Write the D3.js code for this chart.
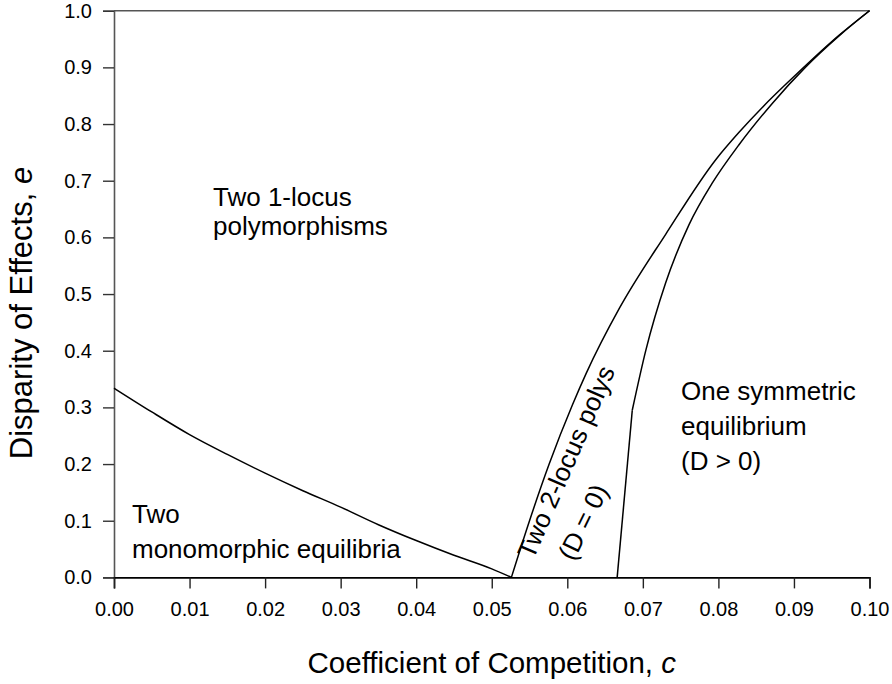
<!DOCTYPE html>
<html>
<head>
<meta charset="utf-8">
<script src="https://cdn.jsdelivr.net/npm/d3@7"></script>
<style>
  html, body { margin: 0; padding: 0; background: #fff; }
  svg { display: block; }
  text { font-family: "Liberation Sans", Arial, Helvetica, sans-serif; fill: #000; }
</style>
</head>
<body>
<svg id="chart" width="892" height="684"></svg>
<script>
// ---- Data ----
const xTicks = [0, 0.01, 0.02, 0.03, 0.04, 0.05, 0.06, 0.07, 0.08, 0.09, 0.10];
const yTicks = [0, 0.1, 0.2, 0.3, 0.4, 0.5, 0.6, 0.7, 0.8, 0.9, 1.0];

// Boundary: two monomorphic equilibria / two 1-locus polymorphisms
const monoC = [0, 0.005, 0.01, 0.015, 0.02, 0.025, 0.03, 0.035, 0.04, 0.045, 0.05, 0.0526];
const monoE = [0.334, 0.292, 0.252, 0.217, 0.184, 0.153, 0.124, 0.093, 0.065, 0.039, 0.015, 0];

// Boundary: two 1-locus polymorphisms / two 2-locus polys (D = 0)
const leftC = [0.0526, 0.0550, 0.0576, 0.0607, 0.0625, 0.0669, 0.0730, 0.0797, 0.0827, 0.0860, 0.0893, 0.0924, 0.0960, 0.1000];
const leftE = [0, 0.100, 0.200, 0.305, 0.360, 0.475, 0.605, 0.738, 0.785, 0.832, 0.875, 0.914, 0.957, 1.0];

// Boundary: two 2-locus polys / one symmetric equilibrium (D > 0)
const rightC = [0.0666, 0.0686, 0.0704, 0.0730, 0.0761, 0.0792, 0.0827, 0.0871, 0.0915, 0.0960, 0.1000];
const rightE = [0, 0.295, 0.401, 0.519, 0.622, 0.696, 0.763, 0.836, 0.900, 0.956, 1.0];

// ---- Layout ----
const svg = d3.select("#chart");
const x = d3.scaleLinear().domain([0, 0.1]).range([114, 869.5]);
const y = d3.scaleLinear().domain([0, 1]).range([577.4, 10.7]);

// Top frame line
svg.append("line")
  .attr("x1", x(0)).attr("x2", x(0.1))
  .attr("y1", y(1)).attr("y2", y(1))
  .attr("stroke", "#555").attr("stroke-width", 1.6);

// Y axis
const yAxis = d3.axisLeft(y).tickValues(yTicks).tickSize(11).tickPadding(11)
  .tickFormat(d3.format(".1f"));
const gy = svg.append("g").attr("transform", `translate(${x(0)},0)`).call(yAxis);
gy.select(".domain").attr("stroke", "#555").attr("stroke-width", 1.6);
gy.selectAll(".tick line").attr("stroke", "#333").attr("stroke-width", 1.4);
gy.selectAll(".tick text").style("font-size", "20px").attr("fill", "#000")
  .style("font-family", '"Liberation Sans", Arial, sans-serif');

// X axis
const xAxis = d3.axisBottom(x).tickValues(xTicks).tickSize(11).tickPadding(13)
  .tickFormat(d3.format(".2f"));
const gx = svg.append("g").attr("transform", `translate(0,${y(0)})`).call(xAxis);
gx.select(".domain").attr("stroke", "#000").attr("stroke-width", 1.6);
gx.selectAll(".tick line").attr("stroke", "#222").attr("stroke-width", 1.4);
gx.selectAll(".tick text").style("font-size", "20px").attr("fill", "#000")
  .style("font-family", '"Liberation Sans", Arial, sans-serif');

// Curves
const smooth = d3.line().x(d => x(d[0])).y(d => y(d[1])).curve(d3.curveMonotoneX);
const straight = d3.line().x(d => x(d[0])).y(d => y(d[1]));
const monoPts = d3.zip(monoC, monoE);
const leftPts = d3.zip(leftC, leftE);
const rightPts = d3.zip(rightC, rightE);
const g = svg.append("g").attr("fill", "none").attr("stroke", "#000").attr("stroke-width", 1.5);
g.append("path").attr("d", smooth(monoPts));
g.append("path").attr("d", smooth(leftPts));
// lower straight stretch of the right boundary, then the curved part (kink at second point)
g.append("path").attr("d", straight(rightPts.slice(0, 2)));
g.append("path").attr("d", smooth(rightPts.slice(1)));

// Axis titles
const xt = svg.append("text")
  .attr("x", (x(0) + x(0.1)) / 2).attr("y", 673)
  .attr("text-anchor", "middle").style("font-size", "29.5px");
xt.append("tspan").text("Coefficient of Competition, ");
xt.append("tspan").style("font-style", "italic").text("c");

const yt = svg.append("text")
  .attr("transform", "translate(32,313) rotate(-90)")
  .attr("text-anchor", "middle").style("font-size", "31px");
yt.append("tspan").text("Disparity of Effects, ");
yt.append("tspan").style("font-style", "italic").text("e");

// Region labels
const labels = [
  {t: "Two 1-locus", x: 213, y: 206},
  {t: "polymorphisms", x: 213, y: 235},
  {t: "Two", x: 132, y: 523},
  {t: "monomorphic equilibria", x: 132, y: 558},
  {t: "One symmetric", x: 681, y: 400},
  {t: "equilibrium", x: 681, y: 435},
  {t: "(D > 0)", x: 681, y: 470}
];
svg.append("g").selectAll("text").data(labels).join("text")
  .attr("x", d => d.x).attr("y", d => d.y)
  .style("font-size", "26px")
  .text(d => d.t);

// Rotated labels along the D = 0 region
svg.append("text")
  .attr("transform", "translate(566,462) rotate(-66.5)")
  .attr("text-anchor", "middle").attr("dy", "0.35em")
  .style("font-size", "26px").text("Two 2-locus polys");
svg.append("text")
  .attr("transform", "translate(583,522) rotate(-64)")
  .attr("text-anchor", "middle").attr("dy", "0.35em")
  .style("font-size", "26px").text("(D = 0)");
</script>
</body>
</html>
